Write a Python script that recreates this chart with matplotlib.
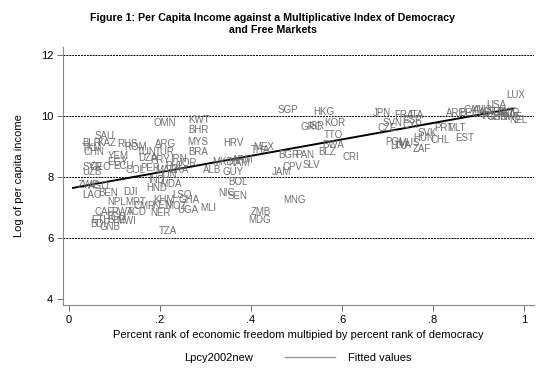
import matplotlib.pyplot as plt
from matplotlib.lines import Line2D

plt.rcParams['font.family'] = ['Liberation Sans', 'DejaVu Sans']

# country labels placed at (x, y) = (freedom x democracy rank, log income)
countries = ['SAU', 'BLR', 'KAZ', 'TKM', 'CHN', 'RUS', 'ROM', 'ARG', 'OMN', 'KWT',
             'BHR', 'MYS', 'BRA', 'TUN', 'TUR', 'YEM', 'EGY', 'DZA', 'PRY', 'IRN',
             'SYR', 'GEO', 'UZB', 'ECU', 'COL', 'PER', 'MAR', 'PHL', 'JOR', 'IDN',
             'LKA', 'ALB', 'MKD', 'NAM', 'ARM', 'GUY', 'HRV', 'MEX', 'THA', 'BGR',
             'SGP', 'JAM', 'CPV', 'SLV', 'BOL', 'IND', 'MDA', 'HND', 'LSO', 'KHM',
             'GHA', 'KEN', 'MOZ', 'UGA', 'NER', 'MLI', 'NIC', 'SEN', 'MNG', 'ZMB',
             'MDG', 'TZA', 'ZWE', 'AGO', 'LAO', 'BEN', 'DJI', 'NPL', 'MRT', 'CMR',
             'CAF', 'RWA', 'TCD', 'TGO', 'ETH', 'SLE', 'MWI', 'BDI', 'GNB',
             'HKG', 'KOR', 'GRC', 'ISR', 'TTO', 'BWA', 'BLZ', 'CRI', 'PAN', 'JPN',
             'FRA', 'ITA', 'ESP', 'SVN', 'CZE', 'CYP', 'PRT', 'MLT', 'SVK', 'HUN',
             'CHL', 'EST', 'POL', 'LVA', 'LTU', 'ZAF', 'MUS', 'LUX', 'USA', 'ARE',
             'BEL', 'CAN', 'AUS', 'AUT', 'NLD', 'DNK', 'NOR', 'IRL', 'GBR', 'FIN',
             'SWE', 'NZL']
rank = [0.057, 0.029, 0.062, 0.029, 0.031, 0.106, 0.121, 0.189, 0.185, 0.262,
        0.262, 0.260, 0.262, 0.150, 0.189, 0.085, 0.085, 0.152, 0.179, 0.223,
        0.029, 0.046, 0.029, 0.097, 0.124, 0.156, 0.189, 0.211, 0.240, 0.200,
        0.223, 0.295, 0.315, 0.350, 0.359, 0.337, 0.339, 0.405, 0.399, 0.460,
        0.458, 0.447, 0.469, 0.513, 0.350, 0.174, 0.200, 0.170, 0.227, 0.185,
        0.240, 0.183, 0.211, 0.237, 0.179, 0.288, 0.329, 0.348, 0.472, 0.399,
        0.394, 0.198, 0.020, 0.041, 0.029, 0.064, 0.119, 0.084, 0.124, 0.141,
        0.057, 0.094, 0.128, 0.080, 0.050, 0.085, 0.103, 0.046, 0.068,
        0.537, 0.560, 0.509, 0.526, 0.560, 0.557, 0.548, 0.601, 0.498, 0.668,
        0.714, 0.747, 0.733, 0.689, 0.678, 0.733, 0.802, 0.832, 0.767, 0.756,
        0.795, 0.850, 0.696, 0.714, 0.707, 0.756, 0.724, 0.961, 0.917, 0.828,
        0.857, 0.868, 0.887, 0.901, 0.917, 0.938, 0.943, 0.905, 0.918, 0.931,
        0.949, 0.967]
lpcy = [9.34, 9.11, 9.11, 8.95, 8.82, 9.08, 8.98, 9.08, 9.77, 9.87,
        9.54, 9.15, 8.82, 8.82, 8.82, 8.69, 8.49, 8.62, 8.56, 8.59,
        8.33, 8.33, 8.16, 8.36, 8.23, 8.30, 8.23, 8.36, 8.46, 8.07,
        8.23, 8.23, 8.49, 8.46, 8.56, 8.16, 9.11, 8.98, 8.89, 8.72,
        10.20, 8.16, 8.33, 8.39, 7.84, 7.90, 7.77, 7.64, 7.41, 7.25,
        7.25, 7.08, 7.05, 6.92, 6.82, 6.98, 7.48, 7.38, 7.25, 6.85,
        6.59, 6.23, 7.74, 7.70, 7.41, 7.48, 7.51, 7.18, 7.18, 7.05,
        6.85, 6.85, 6.85, 6.69, 6.59, 6.59, 6.56, 6.46, 6.36,
        10.13, 9.77, 9.64, 9.67, 9.38, 9.05, 8.82, 8.66, 8.72, 10.10,
        10.03, 10.03, 9.87, 9.77, 9.61, 9.70, 9.61, 9.61, 9.44, 9.28,
        9.21, 9.28, 9.15, 9.05, 9.02, 8.92, 9.11, 10.69, 10.36, 10.10,
        10.10, 10.20, 10.20, 10.13, 10.13, 10.13, 10.10, 10.00, 9.97, 9.97,
        9.97, 9.87]

# fitted line end points
fit_x = [0.009, 0.976]
fit_y = [7.64, 10.24]

fig = plt.figure(figsize=(5.56, 3.68), dpi=100)
ax = fig.add_axes([63 / 556, 1 - 305 / 368, (534 - 63) / 556, (305 - 47) / 368])

for name, x, y in zip(countries, rank, lpcy):
    ax.text(x, y, name, fontsize=7, color='#6e6e6e', ha='left', va='center')

ax.plot(fit_x, fit_y, color='black', lw=1.4)

ax.set_xlim(-0.013, 1.022)
ax.set_ylim(3.8, 12.26)
ax.set_xticks([0, 0.2, 0.4, 0.6, 0.8, 1])
ax.set_xticklabels(['0', '.2', '.4', '.6', '.8', '1'])
ax.set_yticks([4, 6, 8, 10, 12])
for g in [6, 8, 10, 12]:
    ax.axhline(g, color='black', lw=0.7, ls=(0, (2, 1)), zorder=0)

for s in ['top', 'right']:
    ax.spines[s].set_visible(False)
for s in ['left', 'bottom']:
    ax.spines[s].set_color('#888888')
    ax.spines[s].set_linewidth(0.8)
ax.tick_params(labelsize=8, length=4, width=0.6, color='#555555', pad=3)

ax.set_xlabel('Percent rank of economic freedom multipied by percent rank of democracy',
              fontsize=8, labelpad=4)
ax.set_ylabel('Log of per capita income', fontsize=8, labelpad=12)

fig.text(0.49, 0.965, 'Figure 1: Per Capita Income against a Multiplicative Index of Democracy\nand Free Markets',
         ha='center', va='top', fontsize=7.7, fontweight='bold', linespacing=1.25)

handles = [Line2D([], [], ls='none'), Line2D([], [], color='#999999', lw=1)]
fig.legend(handles, ['Lpcy2002new', 'Fitted values'], loc='center', ncol=2,
           bbox_to_anchor=(266 / 556, 1 - 358 / 368), frameon=False, fontsize=8,
           handlelength=4.5, columnspacing=2.85, handletextpad=1.2)

plt.savefig('out.png', dpi=100)
